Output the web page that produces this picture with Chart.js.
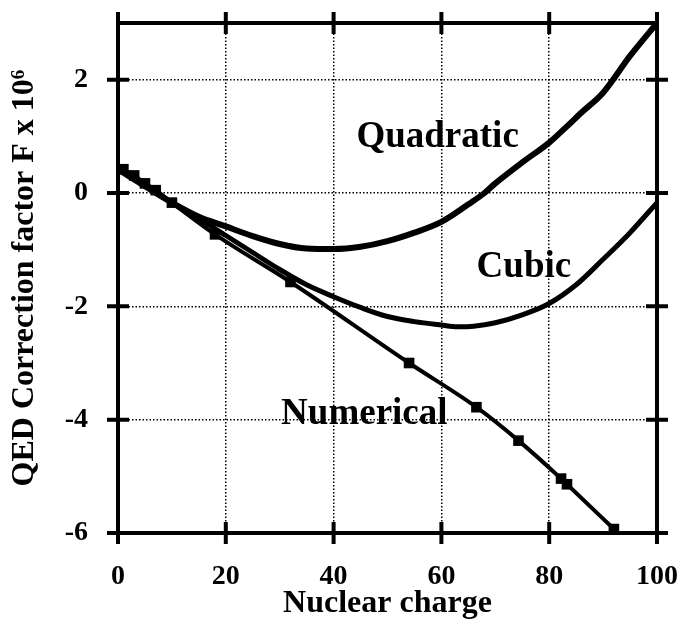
<!DOCTYPE html>
<html lang="en">
<head>
<meta charset="UTF-8">
<title>QED Correction factor</title>
<script src="https://cdn.jsdelivr.net/npm/chart.js"></script>
<style>
    body { margin: 0; background: #fff; }
</style>
</head>
<body>
<canvas id="qedChart" width="682" height="628"></canvas>
<script>
    // Numerical points (the squares)
    const numZ = [1, 3, 5, 7, 10, 18, 32, 54, 66.5, 74.3, 82.2, 83.3, 92];
    const numF = [0.42, 0.31, 0.17, 0.05, -0.17, -0.73, -1.57, -3.0, -3.78, -4.37, -5.04, -5.14, -5.93];

    // Quadratic fit curve
    const quadZ = [0, 5, 10, 15, 20, 25, 30, 35, 40, 45, 50, 55, 60, 65, 68, 70, 75, 80, 83, 86, 90, 95, 100];
    const quadF = [0.42, 0.12, -0.17, -0.42, -0.59, -0.76, -0.90, -0.98, -0.99, -0.95, -0.85, -0.70, -0.51, -0.20, 0, 0.17, 0.54, 0.89, 1.15, 1.42, 1.77, 2.42, 3.0];

    // Cubic fit curve
    const cubZ = [0, 5, 10, 15, 20, 25, 30, 35, 40, 45, 50, 55, 60, 63, 66, 70, 75, 80, 85, 90, 95, 100];
    const cubF = [0.42, 0.12, -0.17, -0.45, -0.75, -1.05, -1.35, -1.62, -1.83, -2.02, -2.18, -2.27, -2.33, -2.36, -2.35, -2.29, -2.15, -1.95, -1.62, -1.17, -0.70, -0.17];

    const xTicks = [0, 20, 40, 60, 80, 100];
    const yTicks = [-6, -4, -2, 0, 2];

    // curve labels, placed in data units (x = centre, y = baseline)
    const noteText = ['Quadratic', 'Cubic', 'Numerical'];
    const noteZ = [59.3, 75.3, 45.7];
    const noteF = [0.81, -1.48, -4.07];

    const serif = "'Liberation Serif', 'DejaVu Serif', serif";
    const toPts = (xs, ys) => xs.map((x, i) => ({x: x, y: ys[i]}));

    // frame with ticks crossing the border, plus the curve names
    const framePlugin = {
        id: 'frame',
        afterDatasetsDraw(chart) {
            const {ctx, chartArea: a, scales: {x, y}} = chart;
            const t = 11;
            ctx.save();
            ctx.strokeStyle = '#000';
            ctx.lineWidth = 4;
            ctx.strokeRect(a.left, a.top, a.right - a.left, a.bottom - a.top);
            ctx.beginPath();
            xTicks.forEach(v => {
                const px = x.getPixelForValue(v);
                ctx.moveTo(px, a.bottom - t); ctx.lineTo(px, a.bottom + t);
                ctx.moveTo(px, a.top - t); ctx.lineTo(px, a.top + t);
            });
            yTicks.forEach(v => {
                const py = y.getPixelForValue(v);
                ctx.moveTo(a.left - t, py); ctx.lineTo(a.left + t, py);
                ctx.moveTo(a.right - t, py); ctx.lineTo(a.right + t, py);
            });
            ctx.stroke();

            ctx.fillStyle = '#000';
            ctx.font = 'bold 37px ' + serif;
            ctx.textAlign = 'center';
            ctx.textBaseline = 'alphabetic';
            noteText.forEach((s, i) => {
                ctx.fillText(s, x.getPixelForValue(noteZ[i]), y.getPixelForValue(noteF[i]));
            });
            ctx.restore();
        }
    };

    new Chart(document.getElementById('qedChart'), {
        type: 'line',
        data: {
            datasets: [{
                label: 'Numerical',
                data: toPts(numZ, numF),
                borderColor: '#000',
                borderWidth: 4,
                pointStyle: 'rect',
                pointRadius: 7.5,
                pointBorderWidth: 0,
                pointBackgroundColor: '#000',
                cubicInterpolationMode: 'monotone'
            }, {
                label: 'Cubic',
                data: toPts(cubZ, cubF),
                borderColor: '#000',
                borderWidth: 5,
                pointRadius: 0,
                cubicInterpolationMode: 'monotone'
            }, {
                label: 'Quadratic',
                data: toPts(quadZ, quadF),
                borderColor: '#000',
                borderWidth: 6,
                pointRadius: 0,
                cubicInterpolationMode: 'monotone'
            }]
        },
        options: {
            responsive: false,
            animation: false,
            layout: { padding: { top: 23, right: 25, left: 0, bottom: 0 } },
            plugins: { legend: { display: false }, tooltip: { enabled: false } },
            scales: {
                x: {
                    type: 'linear',
                    min: 0,
                    max: 100,
                    afterBuildTicks: s => { s.ticks = xTicks.map(v => ({value: v})); },
                    afterFit: s => { s.height = 95; s.paddingLeft = 0; s.paddingRight = 0; },
                    grid: { color: '#000', lineWidth: 1.5, drawTicks: false },
                    border: { display: false, dash: [1.5, 2] },
                    ticks: {
                        autoSkip: false,
                        maxRotation: 0,
                        padding: 27,
                        color: '#000',
                        font: { family: serif, size: 28, weight: 'bold' }
                    },
                    title: {
                        display: true,
                        text: 'Nuclear charge',
                        color: '#000',
                        padding: { top: 0, bottom: 5 },
                        font: { family: serif, size: 32, weight: 'bold' }
                    }
                },
                y: {
                    min: -6,
                    max: 3,
                    afterBuildTicks: s => { s.ticks = yTicks.map(v => ({value: v})); },
                    afterFit: s => { s.width = 118; s.paddingTop = 0; s.paddingBottom = 0; },
                    grid: { color: '#000', lineWidth: 1.5, drawTicks: false },
                    border: { display: false, dash: [1.5, 2] },
                    ticks: {
                        padding: 30,
                        color: '#000',
                        font: { family: serif, size: 28, weight: 'bold' }
                    },
                    title: {
                        display: true,
                        text: 'QED Correction factor F x 10\u2076',
                        color: '#000',
                        padding: { top: 6, bottom: 0 },
                        font: { family: serif, size: 32, weight: 'bold' }
                    }
                }
            }
        },
        plugins: [framePlugin]
    });
</script>
</body>
</html>
